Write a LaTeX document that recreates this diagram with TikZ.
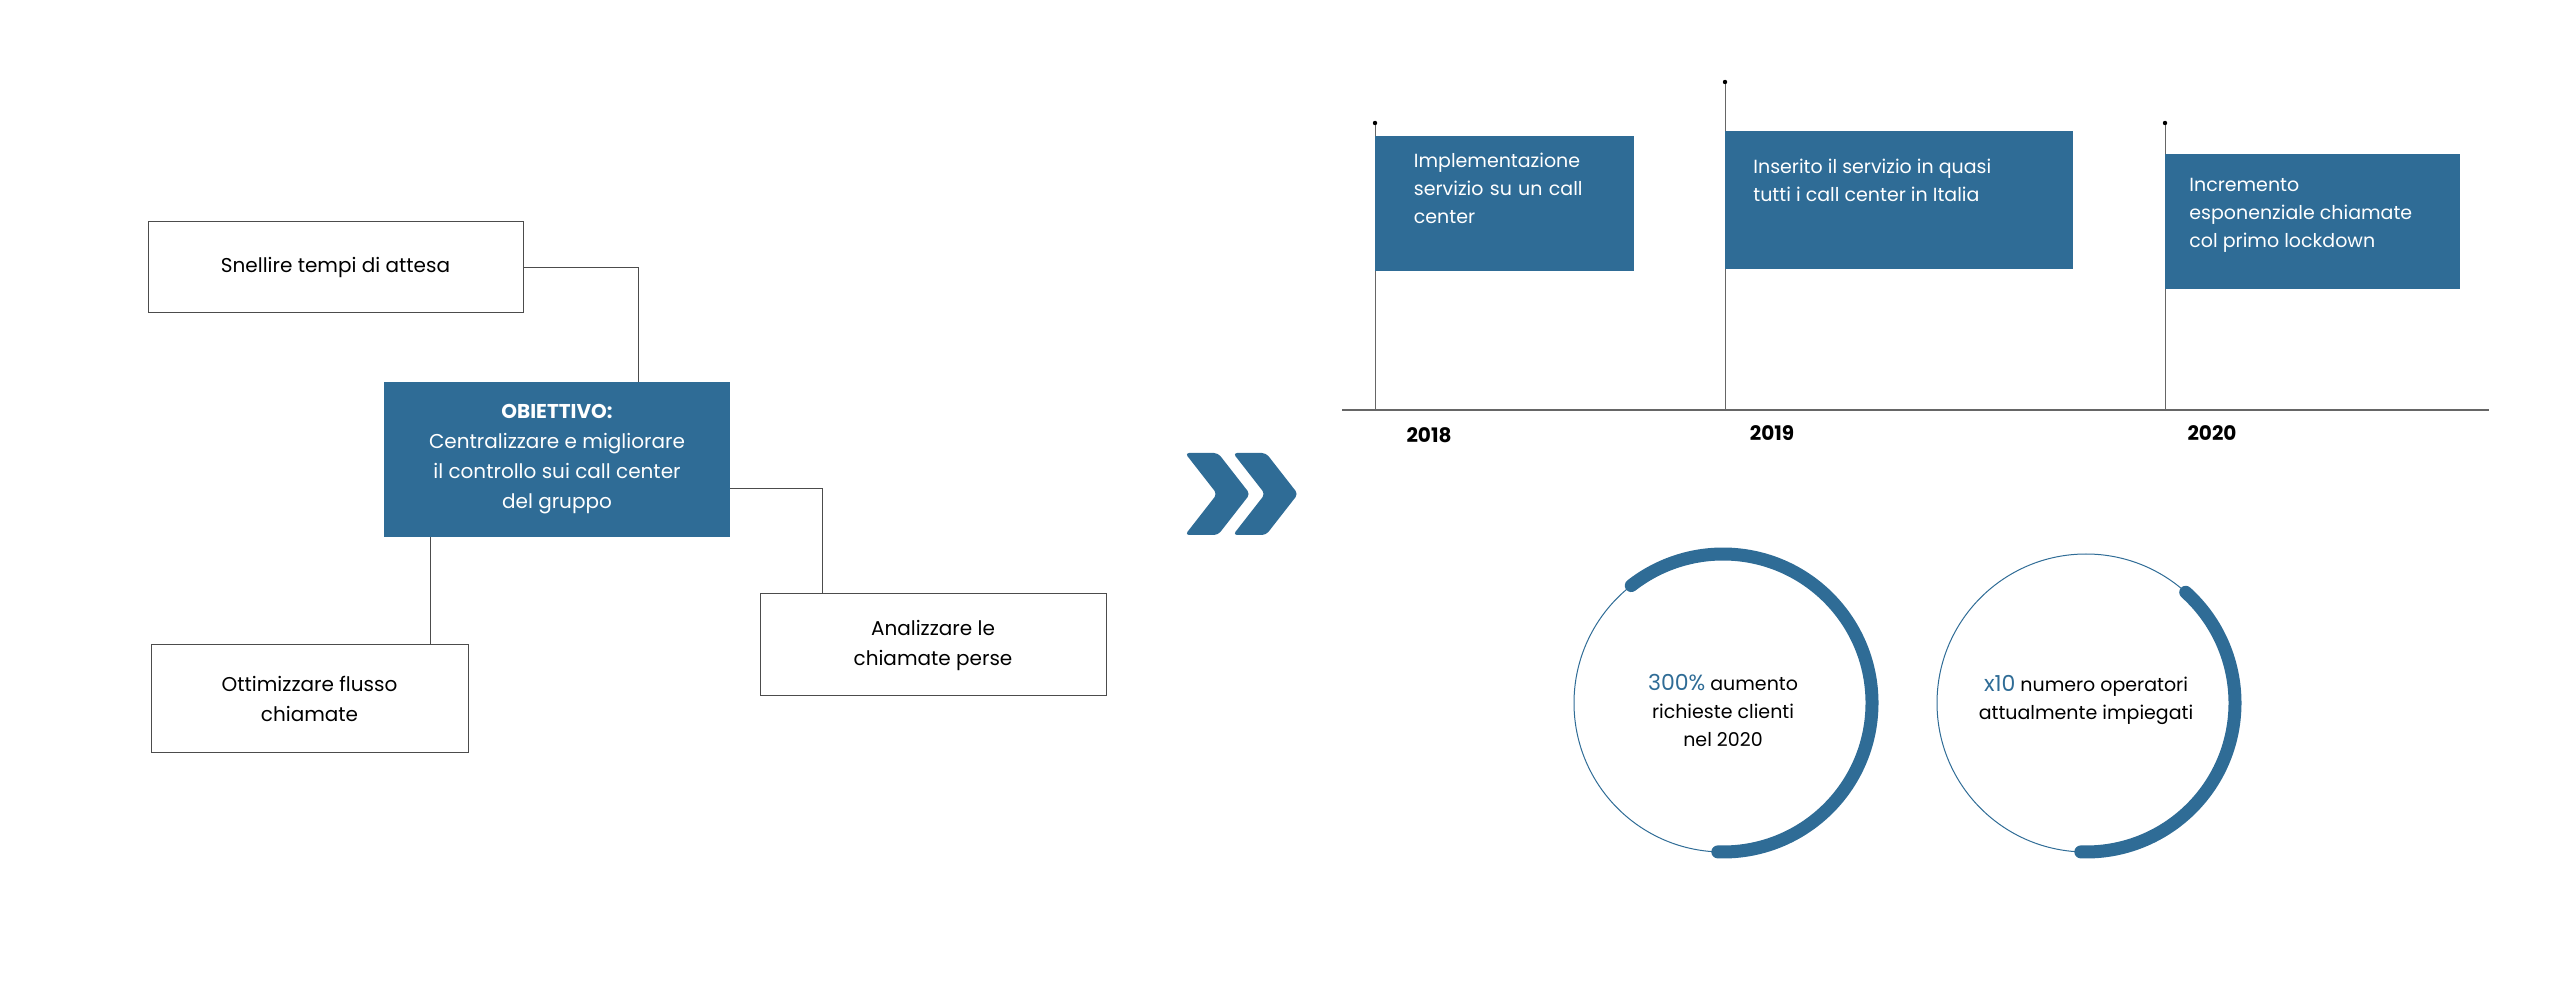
\documentclass[tikz,border=0pt]{standalone}
\usepackage{fontspec}
\setmainfont{Poppins}
\definecolor{blu}{HTML}{2F6C96}
\begin{document}
\begin{tikzpicture}[x=0.5pt,y=-0.5pt,
  wbox/.style={draw=black!70,line width=0.5pt,fill=white,align=center,font=\fontsize{10}{15}\selectfont,inner sep=0},
  bbox/.style={fill=blu,text=white,align=center,font=\fontsize{10}{15}\selectfont,inner sep=0},
  tbox/.style={fill=blu,text=white,align=left,font=\fontsize{9.5}{14}\selectfont,inner sep=0},
  conn/.style={draw=black!70,line width=0.5pt},
  pole/.style={draw=black!60,line width=0.4pt},
  year/.style={font=\bfseries\fontsize{10}{12}\selectfont}]
\useasboundingbox (0,0) rectangle (2560,983);
% left tree
\node[wbox,minimum width=375pt*0.5,minimum height=91pt*0.5] (sn) at (335.5,267.5) {Snellire tempi di attesa};
\node[bbox,minimum width=346pt*0.5,minimum height=155pt*0.5] (ob) at (557,459.5) {\textbf{OBIETTIVO:}\\Centralizzare e migliorare\\il controllo sui call center\\del gruppo};
\node[wbox,minimum width=317pt*0.5,minimum height=107pt*0.5] (ot) at (309.5,698.5) {Ottimizzare flusso\\chiamate};
\node[wbox,minimum width=346pt*0.5,minimum height=102pt*0.5] (an) at (933,645) {Analizzare le\\chiamate perse};
\draw[conn] (sn.east) -| (ob.north -| 638,0);
\draw[conn] (ob.east |- 0,489) -| (an.north -| 822,0);
\draw[conn] (ob.south -| 430,0) -- (ot.north -| 430,0);
% chevrons
\foreach \dx in {0,48}{
  \fill[blu,rounded corners=2pt] (1185+\dx,453) -- (1218+\dx,453) -- (1250+\dx,494) -- (1218+\dx,535) -- (1185+\dx,535) -- (1217+\dx,494) -- cycle;}
% timeline
\coordinate (axl) at (1342,410); \coordinate (axr) at (2489,410);
\draw[draw=black!60,line width=0.8pt] (axl) -- (axr);
\coordinate (p1) at (1375,123); \coordinate (p2) at (1725,82); \coordinate (p3) at (2165,123);
\foreach \p in {p1,p2,p3}{\draw[pole] (\p) -- (\p |- axl); \fill (\p) circle (2.2);}
\node[tbox,anchor=north west,minimum width=259pt*0.5,minimum height=135pt*0.5,text width=230pt*0.5] (b1) at (1375,136) {\\[-2pt]\hspace*{12pt}\parbox[t]{110pt}{Implementazione servizio su un call center}\vspace{20pt}};
\node[tbox,anchor=north west,minimum width=348pt*0.5,minimum height=138pt*0.5] (b2) at (1725,131) {};
\node[tbox,anchor=north west,align=left] at ([xshift=14pt,yshift=-14pt]b2.north west) {Inserito il servizio in quasi\\tutti i call center in Italia};
\node[tbox,anchor=north west,minimum width=295pt*0.5,minimum height=135pt*0.5] (b3) at (2165,154) {};
\node[tbox,anchor=north west,align=left] at ([xshift=12pt,yshift=-12pt]b3.north west) {Incremento\\esponenziale chiamate\\col primo lockdown};
\node[year] (y1) at (1429,435) {2018};
\node[year] (y2) at (1772,433) {2019};
\node[year] (y3) at (2212,433) {2020};
% circles
\coordinate (c1) at (1723,703); \coordinate (c2) at (2086,703);
\draw[blu,line width=0.5pt] (c1) circle (149);
\draw[blu,line width=0.5pt] (c2) circle (149);
\draw[blu,line width=6.5pt,line cap=round] ([shift={(92:149)}]c1) arc[start angle=92,end angle=-128,radius=149];
\draw[blu,line width=6.5pt,line cap=round] ([shift={(92:149)}]c2) arc[start angle=92,end angle=-48,radius=149];
\node[align=center,font=\fontsize{9.5}{14}\selectfont] (t1) at (1723,710) {{\color{blu}\fontsize{11}{14}\selectfont 300\%} aumento\\richieste clienti\\nel 2020};
\node[align=center,font=\fontsize{9.5}{14}\selectfont] (t2) at (2086,700) {{\color{blu}\fontsize{11}{14}\selectfont x10} numero operatori\\attualmente impiegati};
\end{tikzpicture}
\end{document}
